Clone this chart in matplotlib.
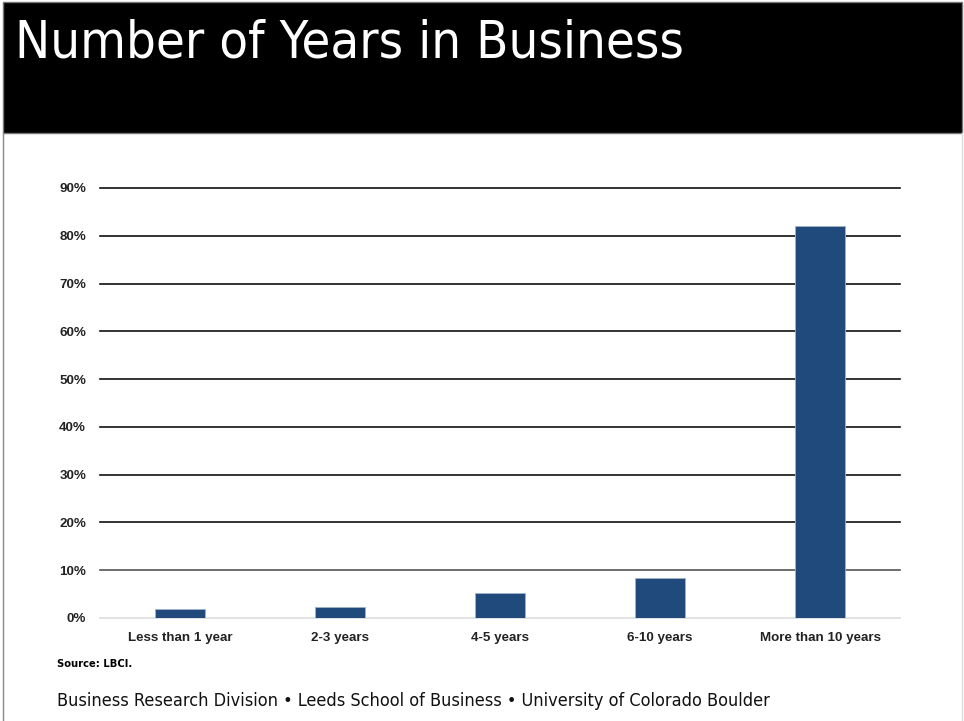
import matplotlib
matplotlib.use("Agg")
import matplotlib.pyplot as plt
from matplotlib.patches import Rectangle
from matplotlib.ticker import FuncFormatter

categories = ["Less than 1 year", "2-3 years", "4-5 years", "6-10 years",
              "More than 10 years"]
shares = [1.9, 2.3, 5.2, 8.4, 82.0]
yticks = [0, 10, 20, 30, 40, 50, 60, 70, 80, 90]

W, H = 964, 721
fig = plt.figure(figsize=(W / 100, H / 100), dpi=100)
fig.patch.set_facecolor("white")

# black title band + frame
fig.add_artist(Rectangle((3 / W, 1 - 133 / H), 959 / W, 131 / H,
                         transform=fig.transFigure, facecolor="black",
                         edgecolor="#777", lw=1.0))
fig.add_artist(plt.Line2D([3 / W, 3 / W], [0, 1 - 133 / H],
                          transform=fig.transFigure, color="#888", lw=1.0))
fig.add_artist(plt.Line2D([962 / W, 962 / W], [0, 1 - 133 / H],
                          transform=fig.transFigure, color="#ddd", lw=1.0))
fig.text(15 / W, 1 - 43 / H, "Number of Years in Business", color="white",
         fontsize=37.7, family=["DejaVu Sans"], va="center", ha="left",
         stretch="condensed")

ax = fig.add_axes([100 / W, 1 - 618 / H, 800 / W, 430 / H])
x = range(len(categories))
ax.bar(x, shares, width=0.31, color="#214a7c", edgecolor="#9fb3cc",
       linewidth=0.6, zorder=3)
ax.set_xlim(-0.5, len(categories) - 0.5)
ax.set_ylim(0, 90)
ax.set_yticks(yticks)
ax.yaxis.set_major_formatter(FuncFormatter(lambda v, p: f"{v:.0f}%"))
ax.set_xticks(list(x))
ax.set_xticklabels(categories)
for y in yticks:
    c = "#dddddd" if y == 0 else ("#555555" if y == 10 else "#111111")
    ax.axhline(y, color=c, lw=1.2, zorder=1, clip_on=False)
for s in ax.spines.values():
    s.set_visible(False)
ax.tick_params(length=0, pad=10)
ax.tick_params(axis="x", pad=10)
lab_font = dict(family=["Liberation Sans Narrow", "Liberation Sans"],
                fontweight="bold", fontsize=9.6, color="#222222")
for t in ax.get_xticklabels() + ax.get_yticklabels():
    t.set(**lab_font)

fig.text(57 / W, 1 - 664 / H, "Source: LBCI.", fontsize=8.0, fontweight="bold",
         family=["DejaVu Sans"], va="center", ha="left", stretch="condensed")
fig.text(57 / W, 1 - 701 / H,
         "Business Research Division \u2022 Leeds School of Business \u2022 "
         "University of Colorado Boulder",
         fontsize=13.0, family=["DejaVu Sans"], va="center", ha="left",
         color="#111111", stretch="condensed")

fig.savefig("out.png", dpi=100, facecolor="white")
